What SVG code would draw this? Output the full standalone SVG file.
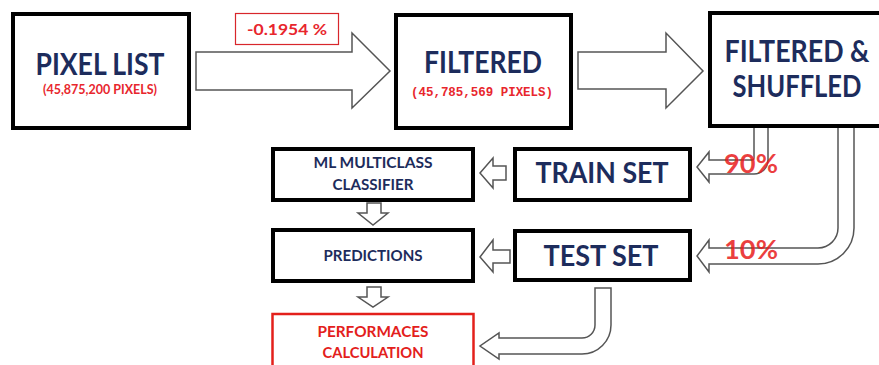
<svg xmlns="http://www.w3.org/2000/svg" width="879" height="365" viewBox="0 0 879 365">
  <style>
    .box { fill: #ffffff; stroke: #000000; stroke-width: 4; }
    .redbox { fill: #ffffff; stroke: #e3201b; stroke-width: 2.5; }
    .tag { fill: #ffffff; stroke: #d8262b; stroke-width: 1.2; }
    .arrow { fill: #ffffff; stroke: #555555; stroke-width: 1.5; stroke-linejoin: miter; }
    .title { font-family: Lato, "Liberation Sans", sans-serif; font-weight: bold; fill: #1d2c5c; text-anchor: middle; }
    .small { font-family: Lato, "Liberation Sans", sans-serif; font-weight: bold; fill: #1d2c5c; text-anchor: middle; font-size: 16px; }
    .note { font-family: Lato, "Liberation Sans", sans-serif; font-weight: bold; fill: #e8262d; text-anchor: middle; }
    .mono { font-family: "Liberation Mono", "DejaVu Sans Mono", monospace; font-weight: bold; fill: #e8262d; text-anchor: middle; font-size: 12.5px; }
    .pct { font-family: Lato, "Liberation Sans", sans-serif; font-weight: bold; fill: #e81c1c; fill-opacity: 0.85; text-anchor: middle; font-size: 26px; }
  </style>

  <rect width="879" height="365" fill="#ffffff"/>

  <!-- block arrows between the steps -->
  <g id="connectors">
    <polygon class="arrow" points="196,52 352,52 352,33 390,71 352,108 352,90 196,90"/>
    <polygon class="arrow" points="578,52 666,52 666,33 703,71 666,108 666,89 578,89"/>
    <!-- split: 90% to train set -->
    <path class="arrow" d="M754,126 V158 Q754,160 752,160 H709 V152 L697,167 L709,182 V174 H754 A14,14 0 0 0 768,160 V126 Z"/>
    <!-- split: 10% to test set -->
    <path class="arrow" d="M838,126 V228 A20,20 0 0 1 818,248 H709 V240 L697,256 L709,272 V264 H818 A36,36 0 0 0 854,228 V126 Z"/>
    <!-- train set to classifier -->
    <polygon class="arrow" points="506,166 493,166 493,158 480,173 493,188 493,180 506,180"/>
    <!-- test set to predictions -->
    <polygon class="arrow" points="510,250 493,250 493,240 480,257 493,272 493,263 510,263"/>
    <!-- classifier to predictions -->
    <polygon class="arrow" points="367,203 381,203 381,213 388,213 373,225 358,213 367,213"/>
    <!-- predictions to performance calculation -->
    <polygon class="arrow" points="367,287 381,287 381,297 388,297 373,307 358,297 367,297"/>
    <!-- test set to performance calculation -->
    <path class="arrow" d="M595,288 V325 A13,13 0 0 1 582,338 H499 V333 L480,346 L499,359 V354 H582 A29,29 0 0 0 611,325 V288 Z"/>
    <!-- split labels -->
    <rect class="tag" x="235.5" y="13.5" width="103" height="31"/>
    <text class="note" x="287" y="35" font-size="15" textLength="80" lengthAdjust="spacingAndGlyphs">-0.1954 %</text>
    <text class="pct" x="751" y="173" textLength="54" lengthAdjust="spacingAndGlyphs">90%</text>
    <text class="pct" x="751" y="259" textLength="54" lengthAdjust="spacingAndGlyphs">10%</text>
  </g>

  <g id="pixel-list">
    <rect class="box" x="13" y="14" width="176" height="114"/>
    <text class="title" x="100" y="75" font-size="30" textLength="129" lengthAdjust="spacingAndGlyphs">PIXEL LIST</text>
    <text class="note" x="100" y="94" font-size="12.5" textLength="114" lengthAdjust="spacingAndGlyphs">(45,875,200 PIXELS)</text>
  </g>

  <g id="filtered">
    <rect class="box" x="396" y="15" width="175" height="113"/>
    <text class="title" x="483" y="73" font-size="30" textLength="118" lengthAdjust="spacingAndGlyphs">FILTERED</text>
    <text class="mono" x="482" y="96" textLength="142" lengthAdjust="spacingAndGlyphs">(45,785,569 PIXELS)</text>
  </g>

  <g id="filtered-shuffled">
    <rect class="box" x="710" y="13" width="178" height="113"/>
    <text class="title" x="797" y="62" font-size="30" textLength="145" lengthAdjust="spacingAndGlyphs">FILTERED &amp;</text>
    <text class="title" x="797" y="97" font-size="30" textLength="129" lengthAdjust="spacingAndGlyphs">SHUFFLED</text>
  </g>

  <g id="train-set">
    <rect class="box" x="515" y="149" width="175" height="51"/>
    <text class="title" x="602" y="183" font-size="28" textLength="133" lengthAdjust="spacingAndGlyphs">TRAIN SET</text>
  </g>

  <g id="test-set">
    <rect class="box" x="515" y="231" width="175" height="49"/>
    <text class="title" x="601" y="266" font-size="28" textLength="115" lengthAdjust="spacingAndGlyphs">TEST SET</text>
  </g>

  <g id="classifier">
    <rect class="box" x="273" y="149" width="200" height="51"/>
    <text class="small" x="373" y="168" textLength="119" lengthAdjust="spacingAndGlyphs">ML MULTICLASS</text>
    <text class="small" x="373" y="190" textLength="81" lengthAdjust="spacingAndGlyphs">CLASSIFIER</text>
  </g>

  <g id="predictions">
    <rect class="box" x="273" y="230" width="200" height="51"/>
    <text class="small" x="373" y="261" textLength="99" lengthAdjust="spacingAndGlyphs">PREDICTIONS</text>
  </g>

  <g id="performances">
    <rect class="redbox" x="272.5" y="314" width="201" height="60"/>
    <text class="small" x="373" y="337" style="fill:#e3201b" textLength="111" lengthAdjust="spacingAndGlyphs">PERFORMACES</text>
    <text class="small" x="373" y="358" style="fill:#e3201b" textLength="101" lengthAdjust="spacingAndGlyphs">CALCULATION</text>
  </g>
</svg>
